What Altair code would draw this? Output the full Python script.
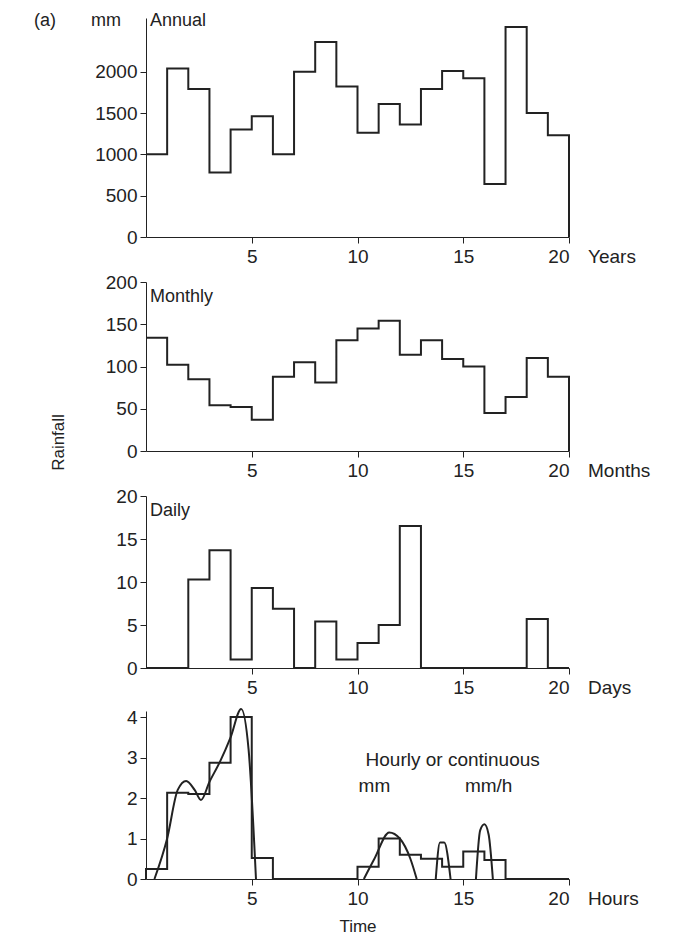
import altair as alt
import pandas as pd

# values per interval (interval i spans i..i+1)
annual = [1000, 2040, 1790, 780, 1300, 1460, 1000, 2000, 2360, 1820,
          1260, 1610, 1360, 1790, 2010, 1920, 640, 2540, 1500, 1230]
monthly = [134, 102, 85, 54, 52, 37, 88, 105, 81, 131,
           145, 154, 114, 131, 109, 100, 45, 64, 110, 88]
daily = [0, 0, 10.3, 13.7, 1, 9.3, 6.9, 0, 5.4, 1,
         2.9, 5, 16.5, 0, 0, 0, 0, 0, 5.7, 0]
hourly = [0.25, 2.13, 2.1, 2.87, 4.0, 0.52, 0, 0, 0, 0,
          0.3, 1.0, 0.6, 0.5, 0.3, 0.68, 0.47, 0, 0, 0]

# continuous intensity curves (hours, mm/h)
curves = {
    "a": ([0.4, 1.0, 1.5, 1.9, 2.3, 2.6, 3.0, 3.5, 4.0, 4.5, 4.85, 5.2],
          [0, 1.0, 2.2, 2.42, 2.2, 1.95, 2.4, 2.9, 3.5, 4.2, 3.2, 0]),
    "b": ([10.3, 10.8, 11.5, 12.0, 12.5, 12.8], [0, 0.5, 1.15, 1.0, 0.5, 0]),
    "c": ([13.7, 13.9, 14.1, 14.4], [0, 0.9, 0.9, 0]),
    "d": ([15.6, 15.8, 16.0, 16.2, 16.4], [0, 1.2, 1.35, 1.1, 0]),
}

FONT = "Liberation Sans"
INK = "#222222"


def step_df(vals):
    xs = list(range(len(vals))) + [20, 20]
    ys = list(vals) + [vals[-1], 0]
    return pd.DataFrame({"t": xs, "v": ys, "o": range(len(xs))})


def panel(df, ymax, yticks, height, unit, name, ytitle=None, xtitle=None, extra=None):
    yax = dict(values=yticks, format="d", grid=False, domainColor=INK, tickColor=INK,
               labelColor=INK, labelFontSize=19, labelFont=FONT, tickSize=6,
               labelPadding=3, title=None)
    if ytitle:
        yax.update(title=ytitle, titleFont=FONT, titleFontSize=17, titleFontWeight="normal",
                   titleColor=INK, titleY=160, titlePadding=38)
    xax = dict(values=[5, 10, 15, 20], grid=False, domainColor=INK, tickColor=INK,
               labelColor=INK, labelFontSize=19, labelFont=FONT, tickSize=6,
               labelPadding=4, title=xtitle if xtitle else None, titleFont=FONT,
               titleFontSize=17, titleFontWeight="normal", titleColor=INK, titlePadding=10)
    x = alt.X("t:Q", scale=alt.Scale(domain=[0, 20], nice=False), axis=alt.Axis(**xax))
    y = alt.Y("v:Q", scale=alt.Scale(domain=[0, ymax], nice=False), axis=alt.Axis(**yax))
    line = alt.Chart(df).mark_line(interpolate="step-after", color=INK, strokeWidth=2).encode(
        x=x, y=y, order="o:Q")
    unit_txt = alt.Chart(pd.DataFrame({"t": [20.9], "v": [0], "s": [unit]})).mark_text(
        align="left", baseline="middle", dy=20, font=FONT, fontSize=19, color=INK
    ).encode(x="t:Q", y="v:Q", text="s:N")
    layers = [line, unit_txt]
    if name:
        name_txt = alt.Chart(pd.DataFrame({"s": [name]})).mark_text(
            align="left", baseline="top", dx=4, font=FONT, fontSize=18, color=INK
        ).encode(x=alt.value(0), y=alt.value(-6 if name == "Annual" else 6), text="s:N")
        layers.append(name_txt)
    if extra:
        layers += extra
    return alt.layer(*layers).properties(width=423, height=height)


top_txt = alt.Chart(pd.DataFrame({"s": ["(a)", "mm"], "px": [-112, -55]})).mark_text(
    align="left", baseline="top", font=FONT, fontSize=18, color=INK
).encode(x=alt.X("px:Q", scale=alt.Scale(domain=[0, 423], range=[0, 423]), axis=None),
         y=alt.value(-6), text="s:N")

p1 = panel(step_df(annual), 2650, [0, 500, 1000, 1500, 2000], 219, "Years", "Annual")
p1 = alt.layer(p1, top_txt).resolve_scale(x="independent")

p2 = panel(step_df(monthly), 200, [0, 50, 100, 150, 200], 169, "Months", "Monthly",
           ytitle="Rainfall")
p3 = panel(step_df(daily), 20, [0, 5, 10, 15, 20], 172, "Days", "Daily")

# hourly: bars-as-steps plus continuous curves
hdf = pd.DataFrame({"t": [0] + list(range(20)) + [20, 20],
                    "v": [0] + hourly + [0, 0]})
hdf["o"] = range(len(hdf))
cv = []
for k, (xs, ys) in curves.items():
    for i, (a, b) in enumerate(zip(xs, ys)):
        cv.append({"t": a, "v": b, "g": k, "o": i})
curve = alt.Chart(pd.DataFrame(cv)).mark_line(interpolate="monotone", color=INK, strokeWidth=2).encode(
    x="t:Q", y="v:Q", detail="g:N", order="o:Q")
label = alt.Chart(pd.DataFrame({"t": [14.5, 10.8, 16.2], "v": [2.95, 2.3, 2.3],
                                "s": ["Hourly or continuous", "mm", "mm/h"]})).mark_text(
    font=FONT, fontSize=19, color=INK).encode(x="t:Q", y="v:Q", text="s:N")

p4 = panel(hdf, 4.15, [0, 1, 2, 3, 4], 168, "Hours", None, xtitle="Time",
           extra=[curve, label])

chart = alt.vconcat(p1, p2, p3, p4, spacing=6).properties(
    padding={"left": 26, "top": 4, "right": 5, "bottom": 5}
).configure(background="white").configure_view(stroke=None)

chart.save("out.html", embed_options={"renderer": "svg", "actions": False})
